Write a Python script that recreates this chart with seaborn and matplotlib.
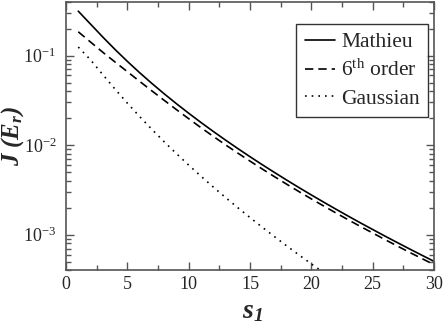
import numpy as np
import pandas as pd
import matplotlib
matplotlib.use("Agg")
import matplotlib.pyplot as plt
from matplotlib.ticker import MultipleLocator, LogLocator, LogFormatterMathtext, NullFormatter
import seaborn as sns

# ---- data ----
s_vals = list(range(1, 31))
mathieu = [0.313, 0.2244, 0.1610, 0.1169, 0.08621, 0.06450, 0.04890, 0.03750, 0.02906, 0.02274,
           0.01794, 0.01426, 0.01141, 0.009185, 0.007437, 0.006056, 0.004955, 0.004072, 0.003360, 0.002784,
           0.002316, 0.001933, 0.001618, 0.001359, 0.001146, 0.0009676, 0.0008196, 0.000696, 0.0005926, 0.0005056]
sixth = [0.1843, 0.1416, 0.1089, 0.08468, 0.06616, 0.05159, 0.04039, 0.03170, 0.02496, 0.01976,
         0.01570, 0.01256, 0.01010, 0.008167, 0.006644, 0.005423, 0.004447, 0.003663, 0.003029, 0.002516,
         0.002098, 0.001755, 0.001472, 0.001239, 0.001048, 0.0008845, 0.0007509, 0.0006377, 0.0005442, 0.0004643]
s_gauss = list(range(1, 22))
gaussian = [0.1245, 0.08958, 0.06132, 0.04221, 0.02947, 0.02089, 0.01502, 0.01093, 0.008055, 0.005996,
            0.004506, 0.003417, 0.002611, 0.002010, 0.001558, 0.001214, 0.0009523, 0.0007506, 0.0005948, 0.0004734,
            0.0003786]
labels = ["Mathieu", r"6$^{\rm th}$ order", "Gaussian"]

sns.set_style("ticks")
plt.rcParams["font.family"] = ["Liberation Serif", "DejaVu Serif"]
plt.rcParams["mathtext.fontset"] = "custom"
plt.rcParams["mathtext.rm"] = "Liberation Serif"
plt.rcParams["mathtext.it"] = "Liberation Serif:italic"
plt.rcParams["mathtext.bf"] = "Liberation Serif:italic:bold"

fig = plt.figure(figsize=(4.46, 3.27), dpi=100)
ax = fig.add_axes([0.148, 0.173, 0.825, 0.822])

df_m = pd.DataFrame({"s": s_vals, "J": mathieu})
df_6 = pd.DataFrame({"s": s_vals, "J": sixth})
df_g = pd.DataFrame({"s": s_gauss, "J": gaussian})

sns.lineplot(data=df_m, x="s", y="J", ax=ax, color="black", lw=1.2, label=labels[0])
sns.lineplot(data=df_6, x="s", y="J", ax=ax, color="black", lw=1.2, label=labels[1],
             linestyle=(0, (5, 3)))
sns.lineplot(data=df_g, x="s", y="J", ax=ax, color="black", lw=1.2, label=labels[2],
             linestyle=(0, (1, 3)))

ax.set_yscale("log")
ax.set_xlim(0, 30)
ax.set_ylim(4e-4, 0.4)
ax.xaxis.set_major_locator(MultipleLocator(5))
ax.xaxis.set_minor_locator(MultipleLocator(2.5))
ax.yaxis.set_major_locator(LogLocator(base=10))
ax.yaxis.set_minor_locator(LogLocator(base=10, subs=np.arange(2, 10)))
ax.yaxis.set_major_formatter(LogFormatterMathtext())
ax.yaxis.set_minor_formatter(NullFormatter())
ax.tick_params(which="both", direction="in", top=True, right=True, color="#555555")
ax.tick_params(which="major", length=6, width=1, labelsize=13)
ax.tick_params(axis="y", which="major", pad=7)
ax.tick_params(axis="x", which="major", pad=4)
ax.tick_params(which="minor", length=3.5, width=1)
for sp in ax.spines.values():
    sp.set_color("#555555")
    sp.set_linewidth(1.2)

ax.set_xlabel(r"$\mathbf{s_1}$", fontsize=20)
ax.set_ylabel(r"$\mathbf{J\ (E_r)}$", fontsize=18)
ax.xaxis.set_label_coords(0.508, -0.105)
ax.yaxis.set_label_coords(-0.11, 0.5)

leg = ax.legend(loc="upper right", bbox_to_anchor=(0.985, 0.918), fontsize=15.5,
                frameon=True, fancybox=False, edgecolor="black", handlelength=1.4,
                handletextpad=0.3, borderpad=0.4, labelspacing=0.35, borderaxespad=0.0)
leg.get_frame().set_linewidth(1.0)

fig.savefig("out.png", dpi=100)
